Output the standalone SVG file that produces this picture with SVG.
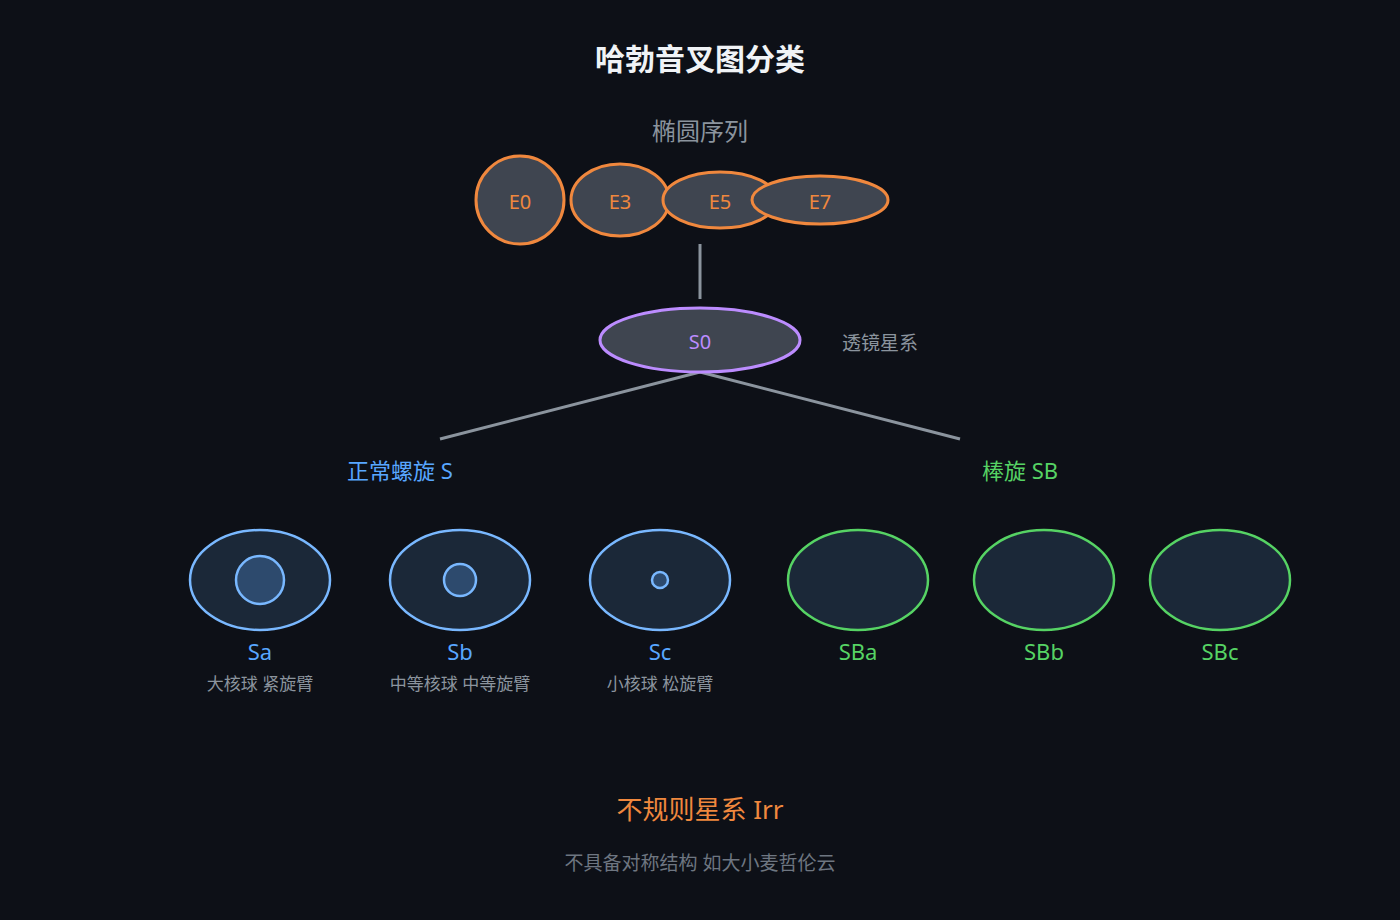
<svg xmlns="http://www.w3.org/2000/svg" width="1400" height="920" viewBox="0 0 1400 920">
<style>
text{font-family:"Noto Sans","Noto Sans CJK SC",sans-serif;text-anchor:middle}
.e{fill:#3f4550;stroke:#f0883e;stroke-width:3}
.et{fill:#f0883e;font-size:20px}
.sp{fill:#1b2838;stroke:#79b8ff;stroke-width:2.5}
.bu{fill:#2d4a6d;stroke:#79b8ff;stroke-width:2.5}
.sb{fill:#1b2838;stroke:#56d364;stroke-width:2.5}
.bl{fill:#58a6ff;font-size:22px}
.gl{fill:#56d364;font-size:22px}
.ds{fill:#8b949e;font-size:17px}
.ln{stroke:#8b949e;stroke-width:3;fill:none}
</style>
<rect width="1400" height="920" fill="#0d1017"/>
<text x="700" y="70" font-size="30" font-weight="bold" fill="#f0f3f6">哈勃音叉图分类</text>
<text x="700" y="140" font-size="24" fill="#8b949e">椭圆序列</text>
<g id="connectors">
<line class="ln" x1="700" y1="244" x2="700" y2="299"/>
<line class="ln" x1="700" y1="372" x2="440" y2="439"/>
<line class="ln" x1="700" y1="372" x2="960" y2="439"/>
</g>
<g id="E0"><ellipse class="e" cx="520" cy="200" rx="44" ry="44"/><text class="et" x="520" y="209">E0</text></g>
<g id="E3"><ellipse class="e" cx="620" cy="200" rx="49" ry="36"/><text class="et" x="620" y="209">E3</text></g>
<g id="E5"><ellipse class="e" cx="720" cy="200" rx="57" ry="28"/><text class="et" x="720" y="209">E5</text></g>
<g id="E7"><ellipse class="e" cx="820" cy="200" rx="68" ry="24"/><text class="et" x="820" y="209">E7</text></g>
<g id="S0"><ellipse cx="700" cy="340" rx="100" ry="32" fill="#3f4550" stroke="#bc8cff" stroke-width="3"/><text x="700" y="349" font-size="20" fill="#bc8cff">S0</text></g>
<text x="880" y="350" font-size="19" fill="#8b949e">透镜星系</text>
<text class="bl" x="400" y="479" font-size="25">正常螺旋 S</text>
<text class="gl" x="1020" y="479" font-size="25">棒旋 SB</text>
<g id="Sa"><ellipse class="sp" cx="260" cy="580" rx="70" ry="50"/><circle class="bu" cx="260" cy="580" r="24"/><text class="bl" x="260" y="660">Sa</text><text class="ds" x="260" y="690">大核球 紧旋臂</text></g>
<g id="Sb"><ellipse class="sp" cx="460" cy="580" rx="70" ry="50"/><circle class="bu" cx="460" cy="580" r="16"/><text class="bl" x="460" y="660">Sb</text><text class="ds" x="460" y="690">中等核球 中等旋臂</text></g>
<g id="Sc"><ellipse class="sp" cx="660" cy="580" rx="70" ry="50"/><circle class="bu" cx="660" cy="580" r="8"/><text class="bl" x="660" y="660">Sc</text><text class="ds" x="660" y="690">小核球 松旋臂</text></g>
<g id="SBa"><ellipse class="sb" cx="858" cy="580" rx="70" ry="50"/><text class="gl" x="858" y="660">SBa</text></g>
<g id="SBb"><ellipse class="sb" cx="1044" cy="580" rx="70" ry="50"/><text class="gl" x="1044" y="660">SBb</text></g>
<g id="SBc"><ellipse class="sb" cx="1220" cy="580" rx="70" ry="50"/><text class="gl" x="1220" y="660">SBc</text></g>
<text x="700" y="819" font-size="26" fill="#f0883e">不规则星系 Irr</text>
<text x="700" y="870" font-size="19" fill="#6e7681">不具备对称结构 如大小麦哲伦云</text>
</svg>
